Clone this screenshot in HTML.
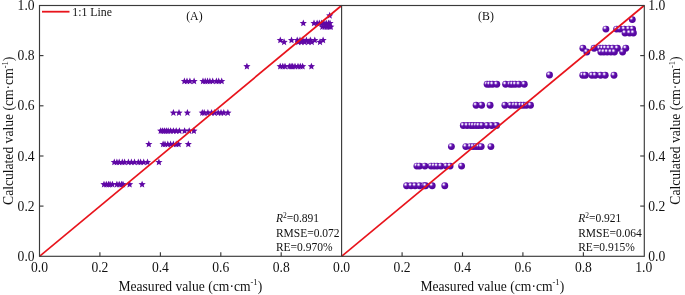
<!DOCTYPE html>
<html><head><meta charset="utf-8"><title>chart</title>
<style>
html,body{margin:0;padding:0;background:#fff;}
svg{display:block;will-change:transform;}
text{font-family:"Liberation Serif",serif;fill:#111;}
</style></head><body>
<svg width="685" height="295" viewBox="0 0 685 295">
<defs>
<radialGradient id="g" cx="0.36" cy="0.32" r="0.7" fx="0.34" fy="0.30">
<stop offset="0" stop-color="#ffffff"/>
<stop offset="0.1" stop-color="#f4ecfc"/>
<stop offset="0.22" stop-color="#b48ee0"/>
<stop offset="0.38" stop-color="#6a1eb4"/>
<stop offset="0.55" stop-color="#5a0aa6"/>
<stop offset="1" stop-color="#52059c"/>
</radialGradient>
</defs>
<rect width="685" height="295" fill="#fff"/>

<g fill="#6008a6">
<polygon points="104.0,180.7 105.0,183.1 107.6,183.3 105.6,185.0 106.2,187.6 104.0,186.2 101.8,187.6 102.4,185.0 100.4,183.3 103.0,183.1"/>
<polygon points="106.3,180.7 107.3,183.1 109.9,183.3 107.9,185.0 108.5,187.6 106.3,186.2 104.1,187.6 104.7,185.0 102.7,183.3 105.3,183.1"/>
<polygon points="108.5,180.7 109.5,183.1 112.1,183.3 110.1,185.0 110.7,187.6 108.5,186.2 106.3,187.6 106.9,185.0 104.9,183.3 107.5,183.1"/>
<polygon points="110.1,180.7 111.1,183.1 113.7,183.3 111.7,185.0 112.3,187.6 110.1,186.2 107.9,187.6 108.5,185.0 106.5,183.3 109.1,183.1"/>
<polygon points="112.4,180.7 113.4,183.1 116.0,183.3 114.0,185.0 114.6,187.6 112.4,186.2 110.2,187.6 110.8,185.0 108.8,183.3 111.4,183.1"/>
<polygon points="116.9,180.7 117.9,183.1 120.5,183.3 118.5,185.0 119.1,187.6 116.9,186.2 114.7,187.6 115.3,185.0 113.3,183.3 115.9,183.1"/>
<polygon points="119.2,180.7 120.2,183.1 122.8,183.3 120.8,185.0 121.4,187.6 119.2,186.2 117.0,187.6 117.6,185.0 115.6,183.3 118.2,183.1"/>
<polygon points="121.5,180.7 122.5,183.1 125.1,183.3 123.1,185.0 123.7,187.6 121.5,186.2 119.3,187.6 119.9,185.0 117.9,183.3 120.5,183.1"/>
<polygon points="123.0,180.7 124.0,183.1 126.6,183.3 124.6,185.0 125.2,187.6 123.0,186.2 120.8,187.6 121.4,185.0 119.4,183.3 122.0,183.1"/>
<polygon points="129.6,180.7 130.6,183.1 133.2,183.3 131.2,185.0 131.8,187.6 129.6,186.2 127.4,187.6 128.0,185.0 126.0,183.3 128.6,183.1"/>
<polygon points="142.1,180.7 143.1,183.1 145.7,183.3 143.7,185.0 144.3,187.6 142.1,186.2 139.9,187.6 140.5,185.0 138.5,183.3 141.1,183.1"/>
<polygon points="114.3,158.4 115.3,160.9 117.9,161.1 115.9,162.8 116.5,165.3 114.3,163.9 112.1,165.3 112.7,162.8 110.7,161.1 113.3,160.9"/>
<polygon points="116.9,158.4 117.9,160.9 120.5,161.1 118.5,162.8 119.1,165.3 116.9,163.9 114.7,165.3 115.3,162.8 113.3,161.1 115.9,160.9"/>
<polygon points="119.2,158.4 120.2,160.9 122.8,161.1 120.8,162.8 121.4,165.3 119.2,163.9 117.0,165.3 117.6,162.8 115.6,161.1 118.2,160.9"/>
<polygon points="122.3,158.4 123.3,160.9 125.9,161.1 123.9,162.8 124.5,165.3 122.3,163.9 120.1,165.3 120.7,162.8 118.7,161.1 121.3,160.9"/>
<polygon points="124.6,158.4 125.6,160.9 128.2,161.1 126.2,162.8 126.8,165.3 124.6,163.9 122.4,165.3 123.0,162.8 121.0,161.1 123.6,160.9"/>
<polygon points="128.4,158.4 129.4,160.9 132.0,161.1 130.0,162.8 130.6,165.3 128.4,163.9 126.2,165.3 126.8,162.8 124.8,161.1 127.4,160.9"/>
<polygon points="131.4,158.4 132.4,160.9 135.0,161.1 133.0,162.8 133.6,165.3 131.4,163.9 129.2,165.3 129.8,162.8 127.8,161.1 130.4,160.9"/>
<polygon points="134.5,158.4 135.5,160.9 138.1,161.1 136.1,162.8 136.7,165.3 134.5,163.9 132.3,165.3 132.9,162.8 130.9,161.1 133.5,160.9"/>
<polygon points="138.3,158.4 139.3,160.9 141.9,161.1 139.9,162.8 140.5,165.3 138.3,163.9 136.1,165.3 136.7,162.8 134.7,161.1 137.3,160.9"/>
<polygon points="140.6,158.4 141.6,160.9 144.2,161.1 142.2,162.8 142.8,165.3 140.6,163.9 138.4,165.3 139.0,162.8 137.0,161.1 139.6,160.9"/>
<polygon points="143.7,158.4 144.7,160.9 147.3,161.1 145.3,162.8 145.9,165.3 143.7,163.9 141.5,165.3 142.1,162.8 140.1,161.1 142.7,160.9"/>
<polygon points="147.5,158.4 148.5,160.9 151.1,161.1 149.1,162.8 149.7,165.3 147.5,163.9 145.3,165.3 145.9,162.8 143.9,161.1 146.5,160.9"/>
<polygon points="158.9,158.4 159.9,160.9 162.5,161.1 160.5,162.8 161.1,165.3 158.9,163.9 156.7,165.3 157.3,162.8 155.3,161.1 157.9,160.9"/>
<polygon points="148.8,140.4 149.8,142.9 152.4,143.1 150.4,144.8 151.0,147.3 148.8,145.9 146.6,147.3 147.2,144.8 145.2,143.1 147.8,142.9"/>
<polygon points="163.1,140.4 164.1,142.9 166.7,143.1 164.7,144.8 165.3,147.3 163.1,145.9 160.9,147.3 161.5,144.8 159.5,143.1 162.1,142.9"/>
<polygon points="165.0,140.4 166.0,142.9 168.6,143.1 166.6,144.8 167.2,147.3 165.0,145.9 162.8,147.3 163.4,144.8 161.4,143.1 164.0,142.9"/>
<polygon points="167.8,140.4 168.8,142.9 171.4,143.1 169.4,144.8 170.0,147.3 167.8,145.9 165.6,147.3 166.2,144.8 164.2,143.1 166.8,142.9"/>
<polygon points="170.6,140.4 171.6,142.9 174.2,143.1 172.2,144.8 172.8,147.3 170.6,145.9 168.4,147.3 169.0,144.8 167.0,143.1 169.6,142.9"/>
<polygon points="173.4,140.4 174.4,142.9 177.0,143.1 175.0,144.8 175.6,147.3 173.4,145.9 171.2,147.3 171.8,144.8 169.8,143.1 172.4,142.9"/>
<polygon points="176.2,140.4 177.2,142.9 179.8,143.1 177.8,144.8 178.4,147.3 176.2,145.9 174.0,147.3 174.6,144.8 172.6,143.1 175.2,142.9"/>
<polygon points="178.6,140.4 179.6,142.9 182.2,143.1 180.2,144.8 180.8,147.3 178.6,145.9 176.4,147.3 177.0,144.8 175.0,143.1 177.6,142.9"/>
<polygon points="188.3,140.4 189.3,142.9 191.9,143.1 189.9,144.8 190.5,147.3 188.3,145.9 186.1,147.3 186.7,144.8 184.7,143.1 187.3,142.9"/>
<polygon points="160.7,127.2 161.7,129.6 164.3,129.8 162.3,131.5 162.9,134.1 160.7,132.7 158.5,134.1 159.1,131.5 157.1,129.8 159.7,129.6"/>
<polygon points="162.6,127.2 163.6,129.6 166.2,129.8 164.2,131.5 164.8,134.1 162.6,132.7 160.4,134.1 161.0,131.5 159.0,129.8 161.6,129.6"/>
<polygon points="164.4,127.2 165.4,129.6 168.0,129.8 166.0,131.5 166.6,134.1 164.4,132.7 162.2,134.1 162.8,131.5 160.8,129.8 163.4,129.6"/>
<polygon points="166.3,127.2 167.3,129.6 169.9,129.8 167.9,131.5 168.5,134.1 166.3,132.7 164.1,134.1 164.7,131.5 162.7,129.8 165.3,129.6"/>
<polygon points="168.2,127.2 169.2,129.6 171.8,129.8 169.8,131.5 170.4,134.1 168.2,132.7 166.0,134.1 166.6,131.5 164.6,129.8 167.2,129.6"/>
<polygon points="170.6,127.2 171.6,129.6 174.2,129.8 172.2,131.5 172.8,134.1 170.6,132.7 168.4,134.1 169.0,131.5 167.0,129.8 169.6,129.6"/>
<polygon points="173.4,127.2 174.4,129.6 177.0,129.8 175.0,131.5 175.6,134.1 173.4,132.7 171.2,134.1 171.8,131.5 169.8,129.8 172.4,129.6"/>
<polygon points="176.2,127.2 177.2,129.6 179.8,129.8 177.8,131.5 178.4,134.1 176.2,132.7 174.0,134.1 174.6,131.5 172.6,129.8 175.2,129.6"/>
<polygon points="179.4,127.2 180.4,129.6 183.0,129.8 181.0,131.5 181.6,134.1 179.4,132.7 177.2,134.1 177.8,131.5 175.8,129.8 178.4,129.6"/>
<polygon points="184.6,127.2 185.6,129.6 188.2,129.8 186.2,131.5 186.8,134.1 184.6,132.7 182.4,134.1 183.0,131.5 181.0,129.8 183.6,129.6"/>
<polygon points="189.2,127.2 190.2,129.6 192.8,129.8 190.8,131.5 191.4,134.1 189.2,132.7 187.0,134.1 187.6,131.5 185.6,129.8 188.2,129.6"/>
<polygon points="193.9,127.2 194.9,129.6 197.5,129.8 195.5,131.5 196.1,134.1 193.9,132.7 191.7,134.1 192.3,131.5 190.3,129.8 192.9,129.6"/>
<polygon points="173.4,109.0 174.4,111.5 177.0,111.7 175.0,113.4 175.6,115.9 173.4,114.5 171.2,115.9 171.8,113.4 169.8,111.7 172.4,111.5"/>
<polygon points="179.0,109.0 180.0,111.5 182.6,111.7 180.6,113.4 181.2,115.9 179.0,114.5 176.8,115.9 177.4,113.4 175.4,111.7 178.0,111.5"/>
<polygon points="187.4,109.0 188.4,111.5 191.0,111.7 189.0,113.4 189.6,115.9 187.4,114.5 185.2,115.9 185.8,113.4 183.8,111.7 186.4,111.5"/>
<polygon points="202.3,109.0 203.3,111.5 205.9,111.7 203.9,113.4 204.5,115.9 202.3,114.5 200.1,115.9 200.7,113.4 198.7,111.7 201.3,111.5"/>
<polygon points="204.2,109.0 205.2,111.5 207.8,111.7 205.8,113.4 206.4,115.9 204.2,114.5 202.0,115.9 202.6,113.4 200.6,111.7 203.2,111.5"/>
<polygon points="207.9,109.0 208.9,111.5 211.5,111.7 209.5,113.4 210.1,115.9 207.9,114.5 205.7,115.9 206.3,113.4 204.3,111.7 206.9,111.5"/>
<polygon points="211.6,109.0 212.6,111.5 215.2,111.7 213.2,113.4 213.8,115.9 211.6,114.5 209.4,115.9 210.0,113.4 208.0,111.7 210.6,111.5"/>
<polygon points="214.4,109.0 215.4,111.5 218.0,111.7 216.0,113.4 216.6,115.9 214.4,114.5 212.2,115.9 212.8,113.4 210.8,111.7 213.4,111.5"/>
<polygon points="218.2,109.0 219.2,111.5 221.8,111.7 219.8,113.4 220.4,115.9 218.2,114.5 216.0,115.9 216.6,113.4 214.6,111.7 217.2,111.5"/>
<polygon points="221.0,109.0 222.0,111.5 224.6,111.7 222.6,113.4 223.2,115.9 221.0,114.5 218.8,115.9 219.4,113.4 217.4,111.7 220.0,111.5"/>
<polygon points="223.8,109.0 224.8,111.5 227.4,111.7 225.4,113.4 226.0,115.9 223.8,114.5 221.6,115.9 222.2,113.4 220.2,111.7 222.8,111.5"/>
<polygon points="227.9,109.0 228.9,111.5 231.5,111.7 229.5,113.4 230.1,115.9 227.9,114.5 225.7,115.9 226.3,113.4 224.3,111.7 226.9,111.5"/>
<polygon points="184.4,77.5 185.4,79.9 188.0,80.1 186.0,81.8 186.6,84.3 184.4,83.0 182.2,84.3 182.8,81.8 180.8,80.1 183.4,79.9"/>
<polygon points="187.0,77.5 188.0,79.9 190.6,80.1 188.6,81.8 189.2,84.3 187.0,83.0 184.8,84.3 185.4,81.8 183.4,80.1 186.0,79.9"/>
<polygon points="189.9,77.5 190.9,79.9 193.5,80.1 191.5,81.8 192.1,84.3 189.9,83.0 187.7,84.3 188.3,81.8 186.3,80.1 188.9,79.9"/>
<polygon points="194.1,77.5 195.1,79.9 197.7,80.1 195.7,81.8 196.3,84.3 194.1,83.0 191.9,84.3 192.5,81.8 190.5,80.1 193.1,79.9"/>
<polygon points="203.0,77.5 204.0,79.9 206.6,80.1 204.6,81.8 205.2,84.3 203.0,83.0 200.8,84.3 201.4,81.8 199.4,80.1 202.0,79.9"/>
<polygon points="205.2,77.5 206.2,79.9 208.8,80.1 206.8,81.8 207.4,84.3 205.2,83.0 203.0,84.3 203.6,81.8 201.6,80.1 204.2,79.9"/>
<polygon points="207.5,77.5 208.5,79.9 211.1,80.1 209.1,81.8 209.7,84.3 207.5,83.0 205.3,84.3 205.9,81.8 203.9,80.1 206.5,79.9"/>
<polygon points="209.9,77.5 210.9,79.9 213.5,80.1 211.5,81.8 212.1,84.3 209.9,83.0 207.7,84.3 208.3,81.8 206.3,80.1 208.9,79.9"/>
<polygon points="212.7,77.5 213.7,79.9 216.3,80.1 214.3,81.8 214.9,84.3 212.7,83.0 210.5,84.3 211.1,81.8 209.1,80.1 211.7,79.9"/>
<polygon points="216.4,77.5 217.4,79.9 220.0,80.1 218.0,81.8 218.6,84.3 216.4,83.0 214.2,84.3 214.8,81.8 212.8,80.1 215.4,79.9"/>
<polygon points="218.7,77.5 219.7,79.9 222.3,80.1 220.3,81.8 220.9,84.3 218.7,83.0 216.5,84.3 217.1,81.8 215.1,80.1 217.7,79.9"/>
<polygon points="221.7,77.5 222.7,79.9 225.3,80.1 223.3,81.8 223.9,84.3 221.7,83.0 219.5,84.3 220.1,81.8 218.1,80.1 220.7,79.9"/>
<polygon points="246.9,62.7 247.9,65.1 250.5,65.3 248.5,67.0 249.1,69.6 246.9,68.2 244.7,69.6 245.3,67.0 243.3,65.3 245.9,65.1"/>
<polygon points="280.2,62.7 281.2,65.1 283.8,65.3 281.8,67.0 282.4,69.6 280.2,68.2 278.0,69.6 278.6,67.0 276.6,65.3 279.2,65.1"/>
<polygon points="282.8,62.7 283.8,65.1 286.4,65.3 284.4,67.0 285.0,69.6 282.8,68.2 280.6,69.6 281.2,67.0 279.2,65.3 281.8,65.1"/>
<polygon points="285.0,62.7 286.0,65.1 288.6,65.3 286.6,67.0 287.2,69.6 285.0,68.2 282.8,69.6 283.4,67.0 281.4,65.3 284.0,65.1"/>
<polygon points="289.3,62.7 290.3,65.1 292.9,65.3 290.9,67.0 291.5,69.6 289.3,68.2 287.1,69.6 287.7,67.0 285.7,65.3 288.3,65.1"/>
<polygon points="291.1,62.7 292.1,65.1 294.7,65.3 292.7,67.0 293.3,69.6 291.1,68.2 288.9,69.6 289.5,67.0 287.5,65.3 290.1,65.1"/>
<polygon points="292.7,62.7 293.7,65.1 296.3,65.3 294.3,67.0 294.9,69.6 292.7,68.2 290.5,69.6 291.1,67.0 289.1,65.3 291.7,65.1"/>
<polygon points="295.0,62.7 296.0,65.1 298.6,65.3 296.6,67.0 297.2,69.6 295.0,68.2 292.8,69.6 293.4,67.0 291.4,65.3 294.0,65.1"/>
<polygon points="298.0,62.7 299.0,65.1 301.6,65.3 299.6,67.0 300.2,69.6 298.0,68.2 295.8,69.6 296.4,67.0 294.4,65.3 297.0,65.1"/>
<polygon points="300.3,62.7 301.3,65.1 303.9,65.3 301.9,67.0 302.5,69.6 300.3,68.2 298.1,69.6 298.7,67.0 296.7,65.3 299.3,65.1"/>
<polygon points="302.6,62.7 303.6,65.1 306.2,65.3 304.2,67.0 304.8,69.6 302.6,68.2 300.4,69.6 301.0,67.0 299.0,65.3 301.6,65.1"/>
<polygon points="311.4,62.7 312.4,65.1 315.0,65.3 313.0,67.0 313.6,69.6 311.4,68.2 309.2,69.6 309.8,67.0 307.8,65.3 310.4,65.1"/>
<polygon points="280.3,36.5 281.3,38.9 283.9,39.1 281.9,40.8 282.5,43.3 280.3,42.0 278.1,43.3 278.7,40.8 276.7,39.1 279.3,38.9"/>
<polygon points="291.5,36.5 292.5,38.9 295.1,39.1 293.1,40.8 293.7,43.3 291.5,42.0 289.3,43.3 289.9,40.8 287.9,39.1 290.5,38.9"/>
<polygon points="297.2,36.5 298.2,38.9 300.8,39.1 298.8,40.8 299.4,43.3 297.2,42.0 295.0,43.3 295.6,40.8 293.6,39.1 296.2,38.9"/>
<polygon points="300.0,36.5 301.0,38.9 303.6,39.1 301.6,40.8 302.2,43.3 300.0,42.0 297.8,43.3 298.4,40.8 296.4,39.1 299.0,38.9"/>
<polygon points="302.8,36.5 303.8,38.9 306.4,39.1 304.4,40.8 305.0,43.3 302.8,42.0 300.6,43.3 301.2,40.8 299.2,39.1 301.8,38.9"/>
<polygon points="306.4,36.5 307.4,38.9 310.0,39.1 308.0,40.8 308.6,43.3 306.4,42.0 304.2,43.3 304.8,40.8 302.8,39.1 305.4,38.9"/>
<polygon points="310.3,36.5 311.3,38.9 313.9,39.1 311.9,40.8 312.5,43.3 310.3,42.0 308.1,43.3 308.7,40.8 306.7,39.1 309.3,38.9"/>
<polygon points="314.8,36.5 315.8,38.9 318.4,39.1 316.4,40.8 317.0,43.3 314.8,42.0 312.6,43.3 313.2,40.8 311.2,39.1 313.8,38.9"/>
<polygon points="323.1,36.5 324.1,38.9 326.7,39.1 324.7,40.8 325.3,43.3 323.1,42.0 320.9,43.3 321.5,40.8 319.5,39.1 322.1,38.9"/>
<polygon points="284.1,38.3 285.1,40.7 287.7,41.0 285.7,42.7 286.3,45.2 284.1,43.8 281.9,45.2 282.5,42.7 280.5,41.0 283.1,40.7"/>
<polygon points="298.3,38.3 299.3,40.7 301.9,41.0 299.9,42.7 300.5,45.2 298.3,43.8 296.1,45.2 296.7,42.7 294.7,41.0 297.3,40.7"/>
<polygon points="301.3,38.3 302.3,40.7 304.9,41.0 302.9,42.7 303.5,45.2 301.3,43.8 299.1,45.2 299.7,42.7 297.7,41.0 300.3,40.7"/>
<polygon points="304.6,38.3 305.6,40.7 308.2,41.0 306.2,42.7 306.8,45.2 304.6,43.8 302.4,45.2 303.0,42.7 301.0,41.0 303.6,40.7"/>
<polygon points="308.3,38.3 309.3,40.7 311.9,41.0 309.9,42.7 310.5,45.2 308.3,43.8 306.1,45.2 306.7,42.7 304.7,41.0 307.3,40.7"/>
<polygon points="311.8,38.3 312.8,40.7 315.4,41.0 313.4,42.7 314.0,45.2 311.8,43.8 309.6,45.2 310.2,42.7 308.2,41.0 310.8,40.7"/>
<polygon points="320.0,38.3 321.0,40.7 323.6,41.0 321.6,42.7 322.2,45.2 320.0,43.8 317.8,45.2 318.4,42.7 316.4,41.0 319.0,40.7"/>
<polygon points="303.3,19.4 304.3,21.9 306.9,22.1 304.9,23.8 305.5,26.3 303.3,24.9 301.1,26.3 301.7,23.8 299.7,22.1 302.3,21.9"/>
<polygon points="314.0,19.4 315.0,21.9 317.6,22.1 315.6,23.8 316.2,26.3 314.0,24.9 311.8,26.3 312.4,23.8 310.4,22.1 313.0,21.9"/>
<polygon points="317.1,19.4 318.1,21.9 320.7,22.1 318.7,23.8 319.3,26.3 317.1,24.9 314.9,26.3 315.5,23.8 313.5,22.1 316.1,21.9"/>
<polygon points="319.3,19.4 320.3,21.9 322.9,22.1 320.9,23.8 321.5,26.3 319.3,24.9 317.1,26.3 317.7,23.8 315.7,22.1 318.3,21.9"/>
<polygon points="321.6,19.4 322.6,21.9 325.2,22.1 323.2,23.8 323.8,26.3 321.6,24.9 319.4,26.3 320.0,23.8 318.0,22.1 320.6,21.9"/>
<polygon points="323.9,19.4 324.9,21.9 327.5,22.1 325.5,23.8 326.1,26.3 323.9,24.9 321.7,26.3 322.3,23.8 320.3,22.1 322.9,21.9"/>
<polygon points="326.2,19.4 327.2,21.9 329.8,22.1 327.8,23.8 328.4,26.3 326.2,24.9 324.0,26.3 324.6,23.8 322.6,22.1 325.2,21.9"/>
<polygon points="328.5,19.4 329.5,21.9 332.1,22.1 330.1,23.8 330.7,26.3 328.5,24.9 326.3,26.3 326.9,23.8 324.9,22.1 327.5,21.9"/>
<polygon points="330.0,19.4 331.0,21.9 333.6,22.1 331.6,23.8 332.2,26.3 330.0,24.9 327.8,26.3 328.4,23.8 326.4,22.1 329.0,21.9"/>
<polygon points="322.4,23.0 323.4,25.5 326.0,25.7 324.0,27.4 324.6,29.9 322.4,28.5 320.2,29.9 320.8,27.4 318.8,25.7 321.4,25.5"/>
<polygon points="324.7,23.0 325.7,25.5 328.3,25.7 326.3,27.4 326.9,29.9 324.7,28.5 322.5,29.9 323.1,27.4 321.1,25.7 323.7,25.5"/>
<polygon points="327.0,23.0 328.0,25.5 330.6,25.7 328.6,27.4 329.2,29.9 327.0,28.5 324.8,29.9 325.4,27.4 323.4,25.7 326.0,25.5"/>
<polygon points="329.3,23.0 330.3,25.5 332.9,25.7 330.9,27.4 331.5,29.9 329.3,28.5 327.1,29.9 327.7,27.4 325.7,25.7 328.3,25.5"/>
<polygon points="330.8,23.0 331.8,25.5 334.4,25.7 332.4,27.4 333.0,29.9 330.8,28.5 328.6,29.9 329.2,27.4 327.2,25.7 329.8,25.5"/>
<polygon points="329.7,11.8 330.7,14.2 333.3,14.5 331.3,16.2 331.9,18.7 329.7,17.3 327.5,18.7 328.1,16.2 326.1,14.5 328.7,14.2"/>
</g>
<g fill="url(#g)">
<circle cx="406.6" cy="185.8" r="3.45"/>
<circle cx="411.1" cy="185.8" r="3.45"/>
<circle cx="415.1" cy="185.8" r="3.45"/>
<circle cx="419.6" cy="185.8" r="3.45"/>
<circle cx="424.1" cy="185.8" r="3.45"/>
<circle cx="425.6" cy="185.8" r="3.45"/>
<circle cx="432.2" cy="185.8" r="3.45"/>
<circle cx="444.8" cy="185.8" r="3.45"/>
<circle cx="416.9" cy="166.1" r="3.45"/>
<circle cx="419.6" cy="166.1" r="3.45"/>
<circle cx="424.9" cy="166.1" r="3.45"/>
<circle cx="431.1" cy="166.1" r="3.45"/>
<circle cx="434.1" cy="166.1" r="3.45"/>
<circle cx="437.1" cy="166.1" r="3.45"/>
<circle cx="440.9" cy="166.1" r="3.45"/>
<circle cx="446.3" cy="166.1" r="3.45"/>
<circle cx="450.1" cy="166.1" r="3.45"/>
<circle cx="461.6" cy="166.1" r="3.45"/>
<circle cx="451.4" cy="146.6" r="3.45"/>
<circle cx="465.8" cy="146.6" r="3.45"/>
<circle cx="470.4" cy="146.6" r="3.45"/>
<circle cx="473.2" cy="146.6" r="3.45"/>
<circle cx="476.1" cy="146.6" r="3.45"/>
<circle cx="478.8" cy="146.6" r="3.45"/>
<circle cx="481.2" cy="146.6" r="3.45"/>
<circle cx="490.9" cy="146.6" r="3.45"/>
<circle cx="463.3" cy="125.5" r="3.45"/>
<circle cx="467.1" cy="125.5" r="3.45"/>
<circle cx="470.8" cy="125.5" r="3.45"/>
<circle cx="473.2" cy="125.5" r="3.45"/>
<circle cx="476.1" cy="125.5" r="3.45"/>
<circle cx="478.8" cy="125.5" r="3.45"/>
<circle cx="482.1" cy="125.5" r="3.45"/>
<circle cx="487.2" cy="125.5" r="3.45"/>
<circle cx="491.8" cy="125.5" r="3.45"/>
<circle cx="496.6" cy="125.5" r="3.45"/>
<circle cx="476.1" cy="105.3" r="3.45"/>
<circle cx="481.6" cy="105.3" r="3.45"/>
<circle cx="490.1" cy="105.3" r="3.45"/>
<circle cx="504.9" cy="105.3" r="3.45"/>
<circle cx="510.6" cy="105.3" r="3.45"/>
<circle cx="514.2" cy="105.3" r="3.45"/>
<circle cx="517.0" cy="105.3" r="3.45"/>
<circle cx="520.8" cy="105.3" r="3.45"/>
<circle cx="523.6" cy="105.3" r="3.45"/>
<circle cx="526.4" cy="105.3" r="3.45"/>
<circle cx="530.5" cy="105.3" r="3.45"/>
<circle cx="487.1" cy="84.3" r="3.45"/>
<circle cx="489.6" cy="84.3" r="3.45"/>
<circle cx="492.6" cy="84.3" r="3.45"/>
<circle cx="496.8" cy="84.3" r="3.45"/>
<circle cx="505.6" cy="84.3" r="3.45"/>
<circle cx="510.1" cy="84.3" r="3.45"/>
<circle cx="512.5" cy="84.3" r="3.45"/>
<circle cx="515.3" cy="84.3" r="3.45"/>
<circle cx="519.0" cy="84.3" r="3.45"/>
<circle cx="524.3" cy="84.3" r="3.45"/>
<circle cx="549.5" cy="75.0" r="3.45"/>
<circle cx="582.8" cy="75.3" r="3.45"/>
<circle cx="585.4" cy="75.3" r="3.45"/>
<circle cx="591.9" cy="75.3" r="3.45"/>
<circle cx="595.3" cy="75.3" r="3.45"/>
<circle cx="600.6" cy="75.3" r="3.45"/>
<circle cx="605.2" cy="75.3" r="3.45"/>
<circle cx="614.0" cy="75.3" r="3.45"/>
<circle cx="582.9" cy="48.3" r="3.45"/>
<circle cx="594.1" cy="48.3" r="3.45"/>
<circle cx="599.8" cy="48.3" r="3.45"/>
<circle cx="602.6" cy="48.3" r="3.45"/>
<circle cx="605.4" cy="48.3" r="3.45"/>
<circle cx="609.0" cy="48.3" r="3.45"/>
<circle cx="612.9" cy="48.3" r="3.45"/>
<circle cx="617.4" cy="48.3" r="3.45"/>
<circle cx="625.8" cy="48.3" r="3.45"/>
<circle cx="586.8" cy="52.0" r="3.45"/>
<circle cx="600.9" cy="52.0" r="3.45"/>
<circle cx="603.9" cy="52.0" r="3.45"/>
<circle cx="607.2" cy="52.0" r="3.45"/>
<circle cx="610.9" cy="52.0" r="3.45"/>
<circle cx="614.4" cy="52.0" r="3.45"/>
<circle cx="622.6" cy="52.0" r="3.45"/>
<circle cx="605.9" cy="29.1" r="3.45"/>
<circle cx="616.6" cy="29.1" r="3.45"/>
<circle cx="619.8" cy="29.1" r="3.45"/>
<circle cx="624.2" cy="29.1" r="3.45"/>
<circle cx="628.8" cy="29.1" r="3.45"/>
<circle cx="632.6" cy="29.1" r="3.45"/>
<circle cx="625.0" cy="33.0" r="3.45"/>
<circle cx="629.6" cy="33.0" r="3.45"/>
<circle cx="633.4" cy="33.0" r="3.45"/>
<circle cx="632.3" cy="19.6" r="3.45"/>
</g>
<g stroke="#e8141c" stroke-width="1.7" fill="none">
<line x1="39.5" y1="256.3" x2="341.6" y2="5.5"/>
<line x1="341.6" y1="256.3" x2="644.2" y2="5.5"/>
<line x1="42" y1="11.7" x2="69.5" y2="11.7" stroke-width="1.8"/>
</g>
<g stroke="#3a3a3a" stroke-width="1.15" fill="none">
<rect x="39.5" y="5.5" width="604.8" height="250.8"/>
<line x1="341.6" y1="5.5" x2="341.6" y2="256.3"/>
<line x1="39.5" y1="206.1" x2="43.5" y2="206.1"/>
<line x1="644.3" y1="206.1" x2="640.2" y2="206.1"/>
<line x1="99.9" y1="256.3" x2="99.9" y2="252.3"/>
<line x1="402.1" y1="256.3" x2="402.1" y2="252.3"/>
<line x1="39.5" y1="156.0" x2="43.5" y2="156.0"/>
<line x1="644.3" y1="156.0" x2="640.2" y2="156.0"/>
<line x1="160.4" y1="256.3" x2="160.4" y2="252.3"/>
<line x1="462.5" y1="256.3" x2="462.5" y2="252.3"/>
<line x1="39.5" y1="105.8" x2="43.5" y2="105.8"/>
<line x1="644.3" y1="105.8" x2="640.2" y2="105.8"/>
<line x1="220.8" y1="256.3" x2="220.8" y2="252.3"/>
<line x1="522.9" y1="256.3" x2="522.9" y2="252.3"/>
<line x1="39.5" y1="55.6" x2="43.5" y2="55.6"/>
<line x1="644.3" y1="55.6" x2="640.2" y2="55.6"/>
<line x1="281.2" y1="256.3" x2="281.2" y2="252.3"/>
<line x1="583.4" y1="256.3" x2="583.4" y2="252.3"/>
</g>
<g font-size="13.6">
<text x="34.6" y="260.8" text-anchor="end">0.0</text>
<text x="648.3" y="260.8">0.0</text>
<text x="34.6" y="210.6" text-anchor="end">0.2</text>
<text x="648.3" y="210.6">0.2</text>
<text x="34.6" y="160.5" text-anchor="end">0.4</text>
<text x="648.3" y="160.5">0.4</text>
<text x="34.6" y="110.3" text-anchor="end">0.6</text>
<text x="648.3" y="110.3">0.6</text>
<text x="34.6" y="60.1" text-anchor="end">0.8</text>
<text x="648.3" y="60.1">0.8</text>
<text x="34.6" y="10.0" text-anchor="end">1.0</text>
<text x="648.3" y="10.0">1.0</text>
<text x="39.5" y="271.5" text-anchor="middle">0.0</text>
<text x="99.9" y="271.5" text-anchor="middle">0.2</text>
<text x="160.4" y="271.5" text-anchor="middle">0.4</text>
<text x="220.8" y="271.5" text-anchor="middle">0.6</text>
<text x="281.2" y="271.5" text-anchor="middle">0.8</text>
<text x="341.6" y="271.5" text-anchor="middle">0.0</text>
<text x="402.1" y="271.5" text-anchor="middle">0.2</text>
<text x="462.5" y="271.5" text-anchor="middle">0.4</text>
<text x="522.9" y="271.5" text-anchor="middle">0.6</text>
<text x="583.4" y="271.5" text-anchor="middle">0.8</text>
<text x="643.8" y="271.5" text-anchor="middle">1.0</text>
</g>
<g font-size="13.6">
<text x="190.3" y="290.5" text-anchor="middle">Measured value (cm·cm<tspan font-size="8.5" dy="-5.5">-1</tspan><tspan dy="5.5">)</tspan></text>
<text x="492.3" y="290.5" text-anchor="middle">Measured value (cm·cm<tspan font-size="8.5" dy="-5.5">-1</tspan><tspan dy="5.5">)</tspan></text>
<text transform="translate(13.0,130.8) rotate(-90)" text-anchor="middle">Calculated value (cm·cm<tspan font-size="8.5" dy="-5.5">-1</tspan><tspan dy="5.5">)</tspan></text>
<text transform="translate(680.3,130.5) rotate(-90)" text-anchor="middle">Calculated value (cm·cm<tspan font-size="8.5" dy="-5.5">-1</tspan><tspan dy="5.5">)</tspan></text>
</g>
<g font-size="11.8">
<text x="72.3" y="15.5">1:1 Line</text>
<text x="186.2" y="20.2">(A)</text>
<text x="478.1" y="20.3">(B)</text>
</g>
<g font-size="11.5"><text x="275.9" y="221.6"><tspan font-style="italic">R</tspan><tspan font-size="7.5" dy="-3.9">2</tspan><tspan dy="3.9">=0.891</tspan></text><text x="275.9" y="236.6">RMSE=0.072</text><text x="275.9" y="250.9">RE=0.970%</text></g>
<g font-size="11.5"><text x="578.2" y="221.6"><tspan font-style="italic">R</tspan><tspan font-size="7.5" dy="-3.9">2</tspan><tspan dy="3.9">=0.921</tspan></text><text x="578.2" y="236.6">RMSE=0.064</text><text x="578.2" y="250.9">RE=0.915%</text></g>
</svg></body></html>
